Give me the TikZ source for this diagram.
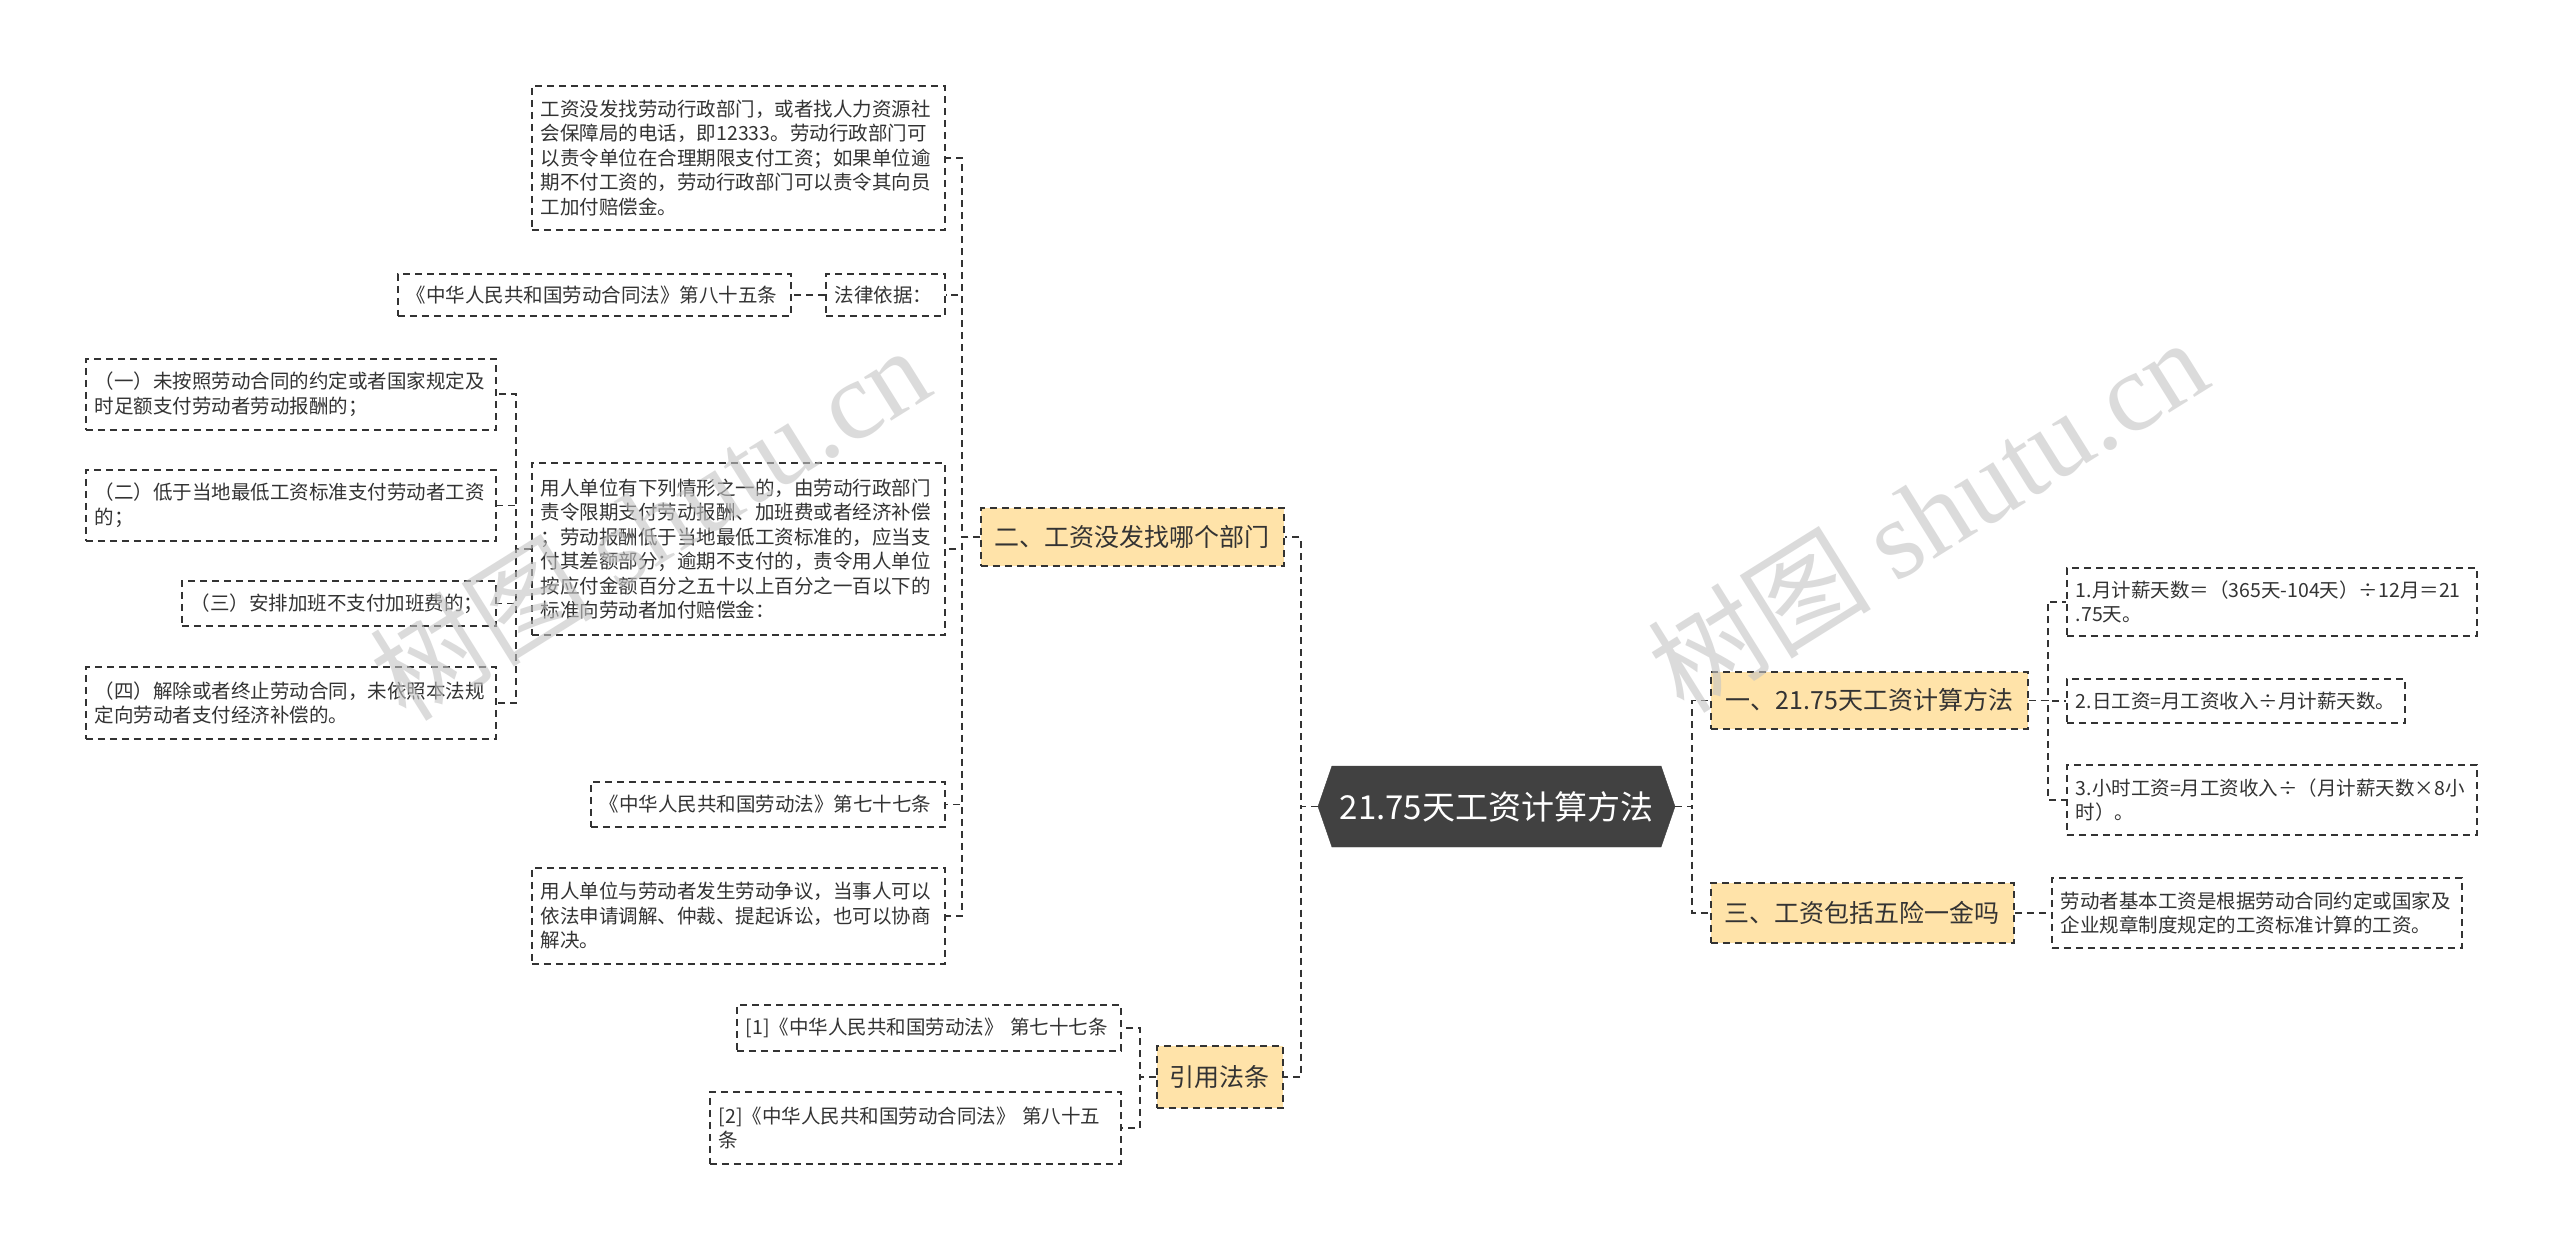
\documentclass[tikz,border=0pt]{standalone}
\usepackage{fontspec}
\setmainfont{Noto Sans CJK SC}
\newfontfamily\wmlatin{Liberation Serif}
\usepackage{tikz}
\usetikzlibrary{shapes.symbols}
\definecolor{linegray}{HTML}{333333}
\definecolor{topicyellow}{HTML}{FFE3A9}
\definecolor{rootgray}{HTML}{414141}
\definecolor{markgray}{HTML}{C4C4C4}
\newcommand{\leaffont}{\fontsize{19.5}{24.5}\selectfont}
\newcommand{\topicfont}{\fontsize{25}{30}\selectfont}
\newcommand{\rootfont}{\fontsize{33}{40}\selectfont}
\tikzset{
	leafbox/.style={draw=linegray, line width=1.8pt, dash pattern=on 7pt off 5pt,
			text=linegray, font=\leaffont, align=left, anchor=north west,
			inner xsep=9pt, inner ysep=0pt}
}
\tikzset{
	topicbox/.style={leafbox, fill=topicyellow, font=\topicfont, align=center, inner xsep=0pt}
}
\tikzset{
	rootnode/.style={signal, signal to=west and east, signal pointer angle=142,
			fill=rootgray, draw=rootgray, text=white, font=\rootfont,
			minimum width=357pt, minimum height=81pt, inner xsep=0pt}
}
\tikzset{
	link/.style={draw=linegray, line width=1.8pt, dash pattern=on 7pt off 5pt}
}
\tikzset{
	watermark/.style={text=markgray, text opacity=0.6, rotate=32, font=\fontsize{112}{112}\selectfont}
}

\begin{document}
\begin{tikzpicture}[x=1pt, y=-1pt]

	\fill[white] (0,0) rectangle (2560,1246);
	\useasboundingbox (0,0) rectangle (2560,1246);

	% centre
	\node[rootnode] (root) at (1496.5,806.5) {21.75天工资计算方法};

	% topics
	\node[topicbox, minimum width=303pt, minimum height=58pt] (erbu) at (980,507) {二、工资没发找哪个部门};
	\node[topicbox, minimum width=126pt, minimum height=62pt] (yyft) at (1156,1045) {引用法条};
	\node[topicbox, minimum width=317pt, minimum height=57pt] (yibu) at (1710,671) {一、21.75天工资计算方法};
	\node[topicbox, minimum width=303pt, minimum height=60pt] (sanbu) at (1710,882) {三、工资包括五险一金吗};

	% left side
	\node[leafbox, text width=395pt, minimum height=144pt] (gzmf) at (531,85)
	{工资没发找劳动行政部门，或者找人力资源社\\会保障局的电话，即12333。劳动行政部门可\\以责令单位在合理期限支付工资；如果单位逾\\期不付工资的，劳动行政部门可以责令其向员\\工加付赔偿金。};
	\node[leafbox, text width=101pt, minimum height=42pt] (flyj) at (825,273) {法律依据：};
	\node[leafbox, text width=375pt, minimum height=42pt] (ht85) at (397,273) {《中华人民共和国劳动合同法》第八十五条};
	\node[leafbox, text width=395pt, minimum height=172pt] (yrdw) at (531,462)
	{用人单位有下列情形之一的，由劳动行政部门\\责令限期支付劳动报酬、加班费或者经济补偿\\；劳动报酬低于当地最低工资标准的，应当支\\付其差额部分；逾期不支付的，责令用人单位\\按应付金额百分之五十以上百分之一百以下的\\标准向劳动者加付赔偿金：};
	\node[leafbox, text width=392pt, minimum height=71pt] (qk1) at (85,358) {（一）未按照劳动合同的约定或者国家规定及\\时足额支付劳动者劳动报酬的；};
	\node[leafbox, text width=392pt, minimum height=71pt] (qk2) at (85,469) {（二）低于当地最低工资标准支付劳动者工资\\的；};
	\node[leafbox, text width=296pt, minimum height=45pt] (qk3) at (181,580) {（三）安排加班不支付加班费的；};
	\node[leafbox, text width=392pt, minimum height=72pt] (qk4) at (85,666) {（四）解除或者终止劳动合同，未依照本法规\\定向劳动者支付经济补偿的。};
	\node[leafbox, text width=336pt, minimum height=45pt] (ldf77) at (590,781) {《中华人民共和国劳动法》第七十七条};
	\node[leafbox, text width=395pt, minimum height=96pt] (zyjj) at (531,867)
	{用人单位与劳动者发生劳动争议，当事人可以\\依法申请调解、仲裁、提起诉讼，也可以协商\\解决。};
	\node[leafbox, text width=366pt, minimum height=46pt] (yin1) at (736,1004) {[1]《中华人民共和国劳动法》 第七十七条};
	\node[leafbox, text width=393pt, minimum height=72pt] (yin2) at (709,1091) {[2]《中华人民共和国劳动合同法》 第八十五\\条};

	% right side
	\node[leafbox, text width=392pt, minimum height=68pt] (js1) at (2066,567) {1.月计薪天数＝（365天-104天）÷12月＝21\\.75天。};
	\node[leafbox, text width=320pt, minimum height=44pt] (js2) at (2066,678) {2.日工资=月工资收入÷月计薪天数。};
	\node[leafbox, text width=392pt, minimum height=70pt] (js3) at (2066,764) {3.小时工资=月工资收入÷（月计薪天数×8小\\时）。};
	\node[leafbox, text width=392pt, minimum height=70pt] (jbgz) at (2051,877) {劳动者基本工资是根据劳动合同约定或国家及\\企业规章制度规定的工资标准计算的工资。};

	% connectors
	\draw[link] (root.west) -- ++(-17,0) |- (erbu.east);
	\draw[link] (root.west) -- ++(-17,0) |- (yyft.east);
	\draw[link] (root.east) -- ++(17,0) |- (yibu.west);
	\draw[link] (root.east) -- ++(17,0) |- (sanbu.west);

	\draw[link] (erbu.west) -- ++(-18,0) |- (gzmf.east);
	\draw[link] (erbu.west) -- ++(-18,0) |- (flyj.east);
	\draw[link] (erbu.west) -- ++(-18,0) |- (yrdw.east);
	\draw[link] (erbu.west) -- ++(-18,0) |- (ldf77.east);
	\draw[link] (erbu.west) -- ++(-18,0) |- (zyjj.east);
	\draw[link] (flyj.west) -- (ht85.east);

	\draw[link] (yrdw.west) -- ++(-15,0) |- (qk1.east);
	\draw[link] (yrdw.west) -- ++(-15,0) |- (qk2.east);
	\draw[link] (yrdw.west) -- ++(-15,0) |- (qk3.east);
	\draw[link] (yrdw.west) -- ++(-15,0) |- (qk4.east);

	\draw[link] (yyft.west) -- ++(-16,0) |- (yin1.east);
	\draw[link] (yyft.west) -- ++(-16,0) |- (yin2.east);

	\draw[link] (yibu.east) -- ++(19,0) |- (js1.west);
	\draw[link] (yibu.east) -- ++(19,0) |- (js2.west);
	\draw[link] (yibu.east) -- ++(19,0) |- (js3.west);
	\draw[link] (sanbu.east) -- (jbgz.west);

	% watermarks
	\node[watermark] (wmleft) at (649,522) {树图 {\wmlatin shutu.cn}};
	\node[watermark] (wmright) at (1927,514) {树图 {\wmlatin shutu.cn}};

\end{tikzpicture}
\end{document}
